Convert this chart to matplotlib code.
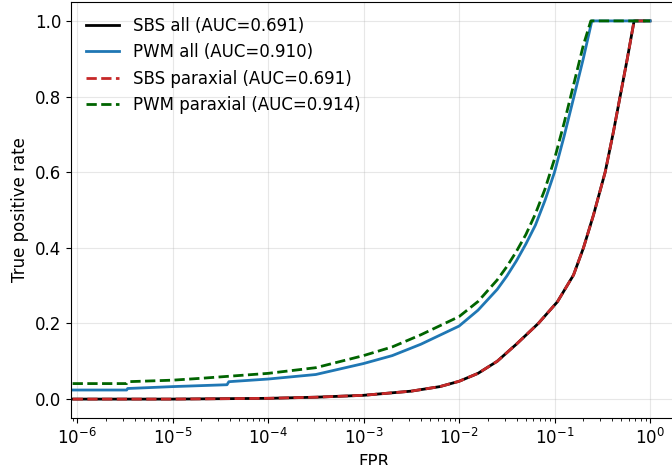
import matplotlib
matplotlib.use("Agg")
import matplotlib.pyplot as plt

# ROC points (false positive rate, true positive rate)
fpr_sbs = [1e-7, 1e-5, 1e-4, 3.16e-4, 1e-3, 3.16e-3, 6.3e-3, 1e-2, 0.0158,
           0.0251, 0.0398, 0.0676, 0.107, 0.158, 0.201, 0.256, 0.339, 0.414,
           0.486, 0.579, 0.681, 1.0]
tpr_sbs = [0.0, 0.0, 0.002, 0.005, 0.010, 0.021, 0.033, 0.047, 0.068,
           0.100, 0.145, 0.200, 0.257, 0.328, 0.400, 0.487, 0.600, 0.707,
           0.800, 0.901, 1.0, 1.0]

fpr_pwm = [1e-7, 3.31e-6, 3.39e-6, 1e-5, 3.72e-5, 3.89e-5, 1e-4, 3.16e-4,
           1e-3, 2.0e-3, 3.98e-3, 1e-2, 0.0158, 0.0251, 0.0316, 0.0398,
           0.0501, 0.0631, 0.0794, 0.1, 0.126, 0.158, 0.2, 0.246, 1.0]
tpr_pwm = [0.024, 0.024, 0.028, 0.033, 0.038, 0.046, 0.053, 0.065,
           0.094, 0.115, 0.145, 0.193, 0.235, 0.290, 0.325, 0.365,
           0.410, 0.460, 0.525, 0.600, 0.695, 0.795, 0.900, 1.0, 1.0]

fpr_pwm_par = [1e-7, 3.31e-6, 3.39e-6, 1e-5, 2.0e-5, 1e-4, 3.16e-4, 1e-3,
               2.0e-3, 3.98e-3, 1e-2, 0.0158, 0.0251, 0.0316, 0.0398, 0.0501,
               0.0631, 0.0794, 0.1, 0.126, 0.158, 0.2, 0.24, 1.0]
tpr_pwm_par = [0.041, 0.041, 0.046, 0.050, 0.055, 0.068, 0.083, 0.115,
               0.138, 0.170, 0.218, 0.258, 0.315, 0.350, 0.390, 0.435,
               0.490, 0.555, 0.635, 0.730, 0.830, 0.935, 1.0, 1.0]

labels = ["SBS all (AUC=0.691)", "PWM all (AUC=0.910)",
          "SBS paraxial (AUC=0.691)", "PWM paraxial (AUC=0.914)"]

plt.rcParams["font.size"] = 12

fig = plt.figure(figsize=(6.72, 4.65), dpi=100)
ax = fig.add_axes([71 / 672, 47 / 465, 605 / 672, 416 / 465])

ax.plot(fpr_sbs, tpr_sbs, color="black", lw=2, label=labels[0])
ax.plot(fpr_pwm, tpr_pwm, color="#1f77b4", lw=2, label=labels[1])
ax.plot(fpr_sbs, tpr_sbs, color="#c62828", lw=2, ls="--", label=labels[2])
ax.plot(fpr_pwm_par, tpr_pwm_par, color="darkgreen", lw=2, ls="--", label=labels[3])

ax.set_xscale("log")
ax.set_xlim(10 ** -6.063, 10 ** 0.272)
ax.set_ylim(-0.05, 1.05)
ax.grid(alpha=0.3)
ax.set_xlabel("FPR")
ax.set_ylabel("True positive rate")
ax.legend(loc="upper left", frameon=False)

fig.savefig("out.png", dpi=100)
